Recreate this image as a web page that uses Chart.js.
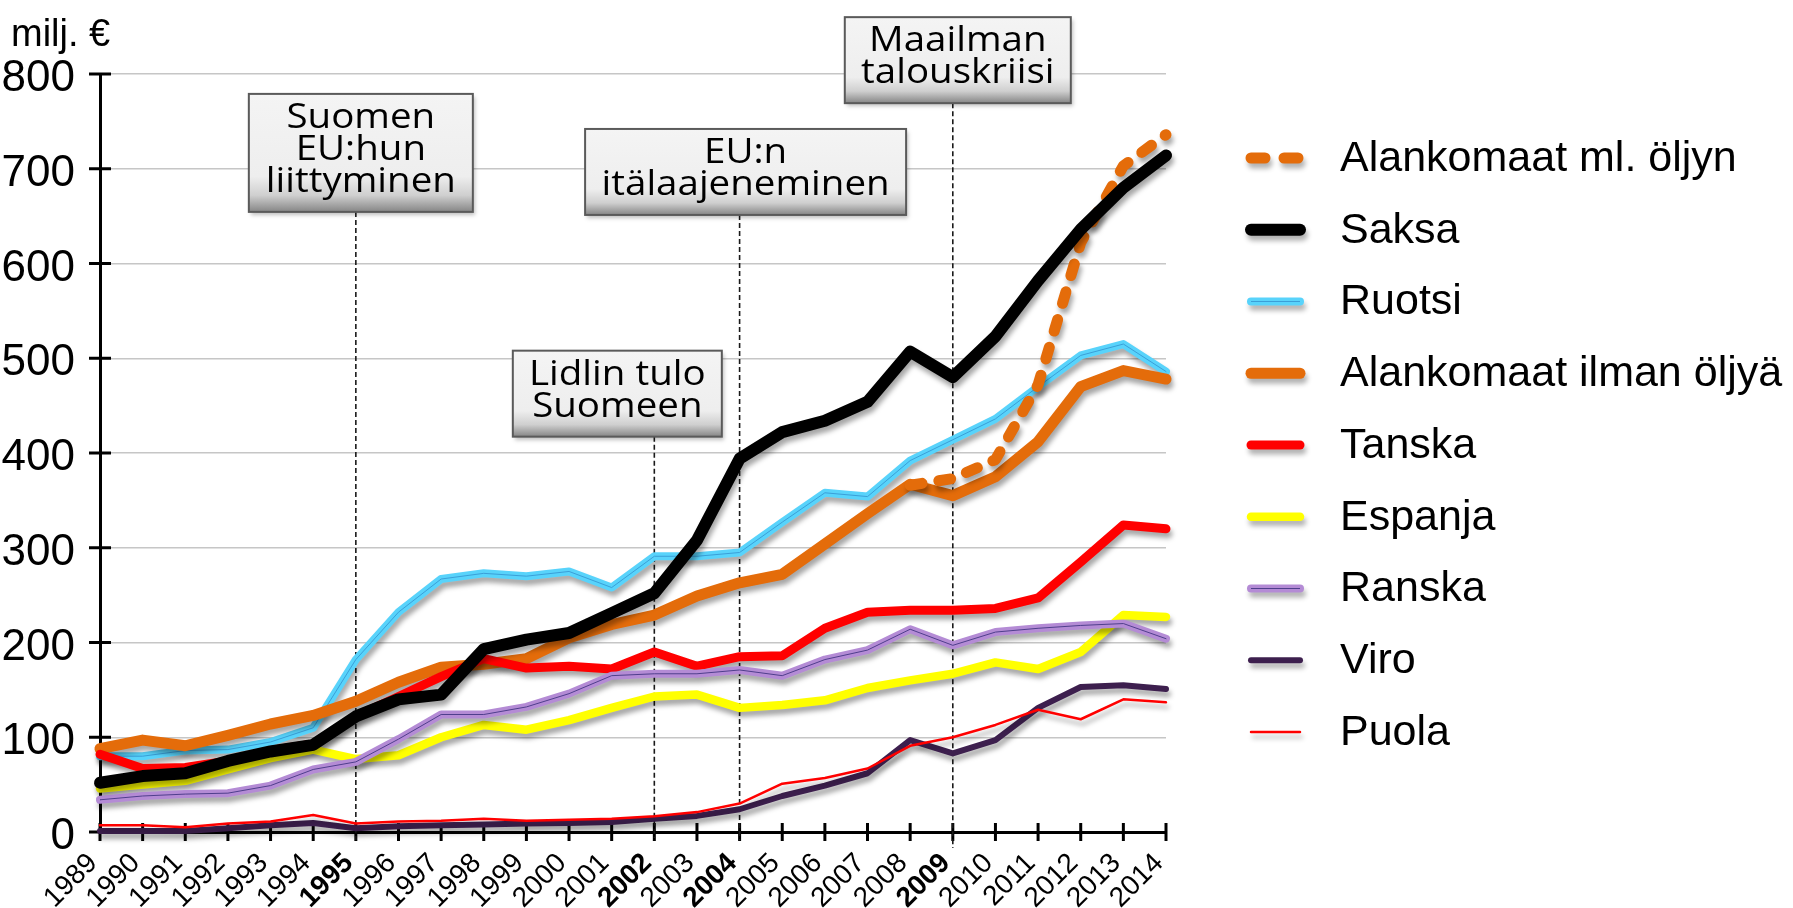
<!DOCTYPE html>
<html lang="fi">
<head>
<meta charset="utf-8">
<title>milj. €</title>
<script src="https://cdn.jsdelivr.net/npm/chart.js@4.4.1/dist/chart.umd.min.js"></script>
<style>
  html, body { margin: 0; padding: 0; background: #fff; }
  #wrap { width: 1793px; height: 908px; position: relative; }
</style>
</head>
<body>
<div id="wrap"><canvas id="chart"></canvas></div>
<script>
// Vuodet ja akselin arvot
const years = ['1989', '1990', '1991', '1992', '1993', '1994', '1995', '1996', '1997', '1998', '1999', '2000', '2001',
  '2002', '2003', '2004', '2005', '2006', '2007', '2008', '2009', '2010', '2011', '2012', '2013', '2014'];
const boldYears = ['1995', '2002', '2004', '2009'];
const yMin = 0;
const yMax = 800;
const yStep = 100;

// Sarjat (milj. €)
const alankomaatMlOljyn = [null, null, null, null, null, null, null, null, null, null, null, null, null,
  null, null, null, null, null, null, 366, 373, 393, 472, 622, 703, 736];
const saksa = [52, 59, 62, 75, 85, 92, 122, 140, 145, 193, 203, 210, 231, 252, 308, 394, 422, 434, 454, 507, 480, 523, 582, 636, 680, 714];
const ruotsi = [80, 80, 86, 87, 95, 110, 182, 232, 267, 273, 270, 275, 258, 291, 291, 295, 327, 358, 354, 392, 414, 436, 470, 503, 515, 486];
const alankomaatIlman = [88, 97, 91, 102, 114, 123, 138, 158, 174, 177, 183, 205, 219, 229, 249, 263, 272, 304, 336, 367, 355, 375, 412, 470, 487, 478];
const tanska = [82, 67, 68, 75, 86, 93, 122, 143, 164, 183, 173, 175, 172, 190, 175, 185, 186, 215, 232, 234, 234, 236, 247, 285, 324, 320];
const espanja = [46, 50, 54, 66, 78, 87, 77, 81, 100, 113, 108, 118, 131, 143, 145, 131, 134, 139, 152, 160, 167, 179, 172, 190, 229, 227];
const ranska = [34, 38, 40, 41, 49, 66, 74, 98, 124, 124, 132, 146, 165, 167, 167, 171, 165, 182, 192, 214, 197, 211, 215, 218, 220, 204];
const viro = [1, 1, 1, 4, 7, 9.5, 4, 6, 7, 8, 9, 9.5, 10.5, 14, 17, 24, 38, 49, 62, 97, 83, 97, 131, 153, 155, 151];
const puola = [7, 7, 5, 9, 11, 18, 9, 11, 12, 14, 12, 13, 14, 16.5, 21, 30, 51, 57, 67, 91, 100, 113, 129, 119, 140, 137];

// Tapahtumat
const eventYears = ['1995', '2004', '2009', '2002'];
const eventTexts = [
  ['Suomen', 'EU:hun', 'liittyminen'],
  ['EU:n', 'itälaajeneminen'],
  ['Maailman', 'talouskriisi'],
  ['Lidlin tulo', 'Suomeen']
];

const sansFont = "'Liberation Sans', Arial, sans-serif";
const narrowFont = "'Liberation Sans Narrow', 'Liberation Sans', Arial, sans-serif";
const boxFont = "'Open Sans', 'Noto Sans', sans-serif";

// Laatikoiden sijainti (keskikohdan siirto vuodesta, yläreuna arvona, leveys px)
const eventBoxes = [
  { dx: 5, topValue: 779, width: 224, lineEnd: 8 },
  { dx: 6, topValue: 742, width: 321, lineEnd: 8 },
  { dx: 5, topValue: 860, width: 226, lineEnd: 16 },
  { dx: -37, topValue: 508, width: 209, lineEnd: 6 }
];

const lineBase = {
  pointRadius: 0,
  pointHoverRadius: 0,
  tension: 0,
  fill: false,
  borderCapStyle: 'round',
  borderJoinStyle: 'round',
  clip: false
};

const datasets = [
  { ...lineBase, label: 'Alankomaat ml. öljyn', data: alankomaatMlOljyn, borderColor: '#e46c0a', borderWidth: 11, borderDash: [12, 17], order: 6, shadow: true },
  { ...lineBase, label: 'Saksa', data: saksa, borderColor: '#000000', borderWidth: 12, order: 0, shadow: true },
  { ...lineBase, label: 'Ruotsi', data: ruotsi, borderColor: '#58d3fb', borderWidth: 8, order: 8, shadow: true },
  { ...lineBase, label: 'Alankomaat ilman öljyä', data: alankomaatIlman, borderColor: '#e46c0a', borderWidth: 11, order: 7, shadow: true },
  { ...lineBase, label: 'Tanska', data: tanska, borderColor: '#ff0000', borderWidth: 9, order: 5, shadow: true },
  { ...lineBase, label: 'Espanja', data: espanja, borderColor: '#ffff00', borderWidth: 8.5, order: 4, shadow: true },
  { ...lineBase, label: 'Ranska', data: ranska, borderColor: '#b48bd5', borderWidth: 8, order: 3, shadow: true },
  { ...lineBase, label: 'Viro', data: viro, borderColor: '#3d1f4e', borderWidth: 6, order: 2, shadow: true },
  { ...lineBase, label: 'Puola', data: puola, borderColor: '#ff0000', borderWidth: 2.5, order: 1, shadow: true },
  // ohuet keskiviivat
  { ...lineBase, label: 'Ruotsi', data: ruotsi, borderColor: '#3b9fd8', borderWidth: 1, order: 7.9, inner: true },
  { ...lineBase, label: 'Ranska', data: ranska, borderColor: '#4f3f8c', borderWidth: 1, order: 2.9, inner: true }
];

const setShadow = (ctx, a) => {
  ctx.shadowColor = 'rgba(0,0,0,' + a + ')';
  ctx.shadowBlur = 5;
  ctx.shadowOffsetX = 2;
  ctx.shadowOffsetY = 5;
};

// Varjot viivoille
const shadowPlugin = {
  id: 'shadows',
  beforeDatasetDraw(chart, args) {
    const ds = chart.data.datasets[args.index];
    chart.ctx.save();
    if (ds.shadow) setShadow(chart.ctx, 0.35);
  },
  afterDatasetDraw(chart) {
    chart.ctx.restore();
  }
};

// Akselien väkäset, pystyviivat, laatikot ja selite
const axisPlugin = {
  id: 'axisMarks',
  beforeDatasetsDraw(chart) {
    const { ctx, chartArea, scales } = chart;
    const x = scales.x;
    const y = scales.y;
    ctx.save();
    ctx.strokeStyle = '#000';
    ctx.lineWidth = 3;
    for (let v = yMin; v <= yMax; v += yStep) {
      const py = y.getPixelForValue(v);
      ctx.beginPath();
      ctx.moveTo(chartArea.left - 11, py);
      ctx.lineTo(chartArea.left + 11, py);
      ctx.stroke();
    }
    years.forEach((yr, i) => {
      const px = x.getPixelForValue(i);
      ctx.beginPath();
      ctx.moveTo(px, chartArea.bottom - 9);
      ctx.lineTo(px, chartArea.bottom + 9);
      ctx.stroke();
    });
    // tapahtumien katkoviivat
    ctx.strokeStyle = '#1a1a1a';
    ctx.lineWidth = 1.6;
    ctx.setLineDash([5, 3]);
    eventYears.forEach((yr, i) => {
      const b = eventBoxes[i];
      const px = x.getPixelForValue(years.indexOf(yr));
      const top = y.getPixelForValue(b.topValue) + eventTexts[i].length * 32 + 22;
      ctx.beginPath();
      ctx.moveTo(px, top);
      ctx.lineTo(px, chartArea.bottom + b.lineEnd);
      ctx.stroke();
    });
    ctx.restore();
  },
  afterDraw(chart) {
    const { ctx, scales } = chart;
    const x = scales.x;
    const y = scales.y;

    // laatikot
    eventYears.forEach((yr, i) => {
      const b = eventBoxes[i];
      const lines = eventTexts[i];
      const cx = x.getPixelForValue(years.indexOf(yr)) + b.dx;
      const top = y.getPixelForValue(b.topValue);
      const h = lines.length * 32 + 22;
      const left = cx - b.width / 2;
      ctx.save();
      const grad = ctx.createLinearGradient(0, top, 0, top + h);
      grad.addColorStop(0, '#f4f4f4');
      grad.addColorStop(0.7, '#eeeeee');
      grad.addColorStop(0.86, '#cfcfcf');
      grad.addColorStop(1, '#858585');
      ctx.shadowColor = 'rgba(0,0,0,0.25)';
      ctx.shadowBlur = 4;
      ctx.shadowOffsetX = 2;
      ctx.shadowOffsetY = 3;
      ctx.fillStyle = grad;
      ctx.fillRect(left, top, b.width, h);
      ctx.shadowColor = 'transparent';
      ctx.strokeStyle = '#5a5a5a';
      ctx.lineWidth = 2;
      ctx.strokeRect(left, top, b.width, h);
      ctx.fillStyle = '#000';
      ctx.font = '35px ' + boxFont;
      ctx.textAlign = 'center';
      ctx.textBaseline = 'alphabetic';
      lines.forEach((t, j) => {
        ctx.save();
        ctx.translate(cx, top + 34 + j * 32);
        ctx.scale(1.1, 1);
        ctx.fillText(t, 0, 0);
        ctx.restore();
      });
      ctx.restore();
    });

    // y-akselin otsikko
    ctx.save();
    ctx.fillStyle = '#000';
    ctx.font = '38px ' + sansFont;
    ctx.textAlign = 'left';
    ctx.textBaseline = 'alphabetic';
    ctx.fillText('milj. €', 11, 46);
    ctx.restore();

    // selite
    const main = chart.data.datasets.filter((d) => !d.inner);
    main.forEach((d, i) => {
      const ly = 158 + i * 71.75;
      ctx.save();
      setShadow(ctx, 0.3);
      ctx.strokeStyle = d.borderColor;
      ctx.lineWidth = d.borderWidth;
      ctx.lineCap = 'round';
      ctx.setLineDash(d.borderDash ? [14, 19] : []);
      ctx.beginPath();
      ctx.moveTo(1251, ly);
      ctx.lineTo(1300, ly);
      ctx.stroke();
      ctx.restore();
      const inner = chart.data.datasets.find((e) => e.inner && e.label === d.label);
      if (inner) {
        ctx.save();
        ctx.strokeStyle = inner.borderColor;
        ctx.lineWidth = 1;
        ctx.beginPath();
        ctx.moveTo(1251, ly);
        ctx.lineTo(1300, ly);
        ctx.stroke();
        ctx.restore();
      }
      ctx.save();
      ctx.fillStyle = '#000';
      ctx.font = '43px ' + sansFont;
      ctx.textAlign = 'left';
      ctx.textBaseline = 'middle';
      ctx.fillText(d.label, 1340, ly + 1);
      ctx.restore();
    });
  }
};

document.addEventListener('DOMContentLoaded', () => {
  const ctx = document.querySelector('#chart').getContext('2d');
  new Chart(ctx, {
    type: 'line',
    data: { labels: years, datasets: datasets },
    options: {
      responsive: true,
      maintainAspectRatio: false,
      animation: false,
      events: [],
      layout: { padding: { left: 0, top: 74, right: 627, bottom: 0 } },
      plugins: {
        legend: { display: false },
        tooltip: { enabled: false },
        title: { display: false }
      },
      scales: {
        x: {
          type: 'category',
          offset: false,
          grid: { display: false, drawTicks: false },
          border: { display: true, color: '#000', width: 3 },
          ticks: {
            autoSkip: false,
            maxRotation: 45,
            minRotation: 45,
            padding: 15,
            labelOffset: -7,
            color: '#000',
            font: (c) => ({
              family: sansFont,
              size: 28,
              weight: boldYears.includes(years[c.index]) ? 'bold' : 'normal'
            })
          },
          afterFit: (scale) => { scale.height = 76; }
        },
        y: {
          min: yMin,
          max: yMax,
          grid: { color: '#c6c6c6', lineWidth: 1.5, drawTicks: false },
          border: { display: true, color: '#000', width: 3 },
          ticks: {
            stepSize: yStep,
            padding: 25,
            labelOffset: 5,
            color: '#000',
            font: { family: narrowFont, size: 44 }
          },
          afterFit: (scale) => { scale.width = 100; }
        }
      }
    },
    plugins: [shadowPlugin, axisPlugin]
  });
});
</script>
</body>
</html>
